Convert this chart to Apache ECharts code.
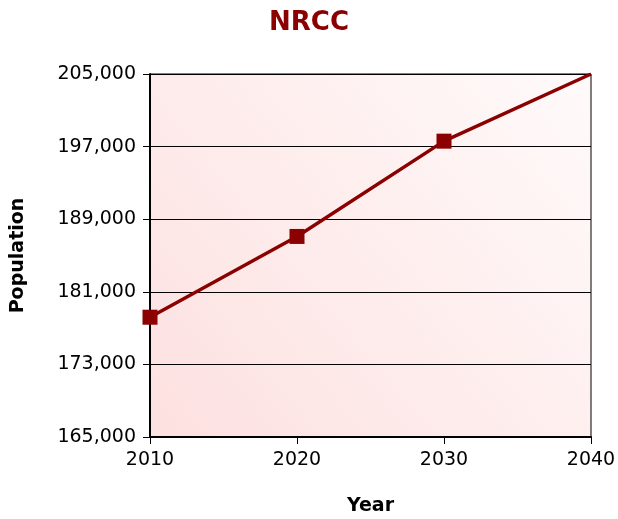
<!DOCTYPE html>
<html><head><meta charset="utf-8">
<script src="https://cdn.jsdelivr.net/npm/echarts@6/dist/echarts.min.js"></script>
<style>html,body{margin:0;padding:0;background:#fff}#c{width:618px;height:519px}</style>
</head><body><div id="c"></div>
<script>
const years = [2010, 2020, 2030, 2040];
const population = [178200, 187100, 197600, 205000];
const yTicks = [165000, 173000, 181000, 189000, 197000, 205000];
const xTicks = [2010, 2020, 2030, 2040];

const chart = echarts.init(document.getElementById('c'));
const fmt = v => v.toLocaleString('en-US');
const data = years.map((y, i) => {
  const d = { value: [y, population[i]] };
  if (i === years.length - 1) d.symbolSize = 0;
  return d;
});
chart.setOption({
  animation: false,
  title: {
    text: 'NRCC', left: 'center', top: 5,
    textStyle: { fontFamily: 'DejaVu Sans', fontWeight: 'bold', fontSize: 26, color: '#8B0000' }
  },
  grid: {
    left: 150, right: 27, top: 74, bottom: 82, show: true, borderColor: '#000', borderWidth: 1,
    outerBoundsMode: 'none', containLabel: false,
    backgroundColor: new echarts.graphic.LinearGradient(0, 1, 1, 0, [
      { offset: 0, color: '#fde0e0' }, { offset: 1, color: '#fffafa' }
    ])
  },
  xAxis: {
    type: 'value', min: xTicks[0], max: xTicks[xTicks.length - 1], interval: 10,
    name: 'Year', nameLocation: 'middle', nameGap: 60,
    nameTextStyle: { fontFamily: 'DejaVu Sans', fontWeight: 'bold', fontSize: 19, color: '#000' },
    axisLine: { lineStyle: { color: '#000', width: 2 } },
    axisTick: { show: true, length: 7, lineStyle: { color: '#000' } },
    axisLabel: { fontFamily: 'DejaVu Sans', fontSize: 19, color: '#000', margin: 14, formatter: v => String(v) },
    splitLine: { show: false }
  },
  yAxis: {
    type: 'value', min: yTicks[0], max: yTicks[yTicks.length - 1], interval: 8000,
    name: 'Population', nameLocation: 'middle', nameGap: 122, nameRotate: 90,
    nameTextStyle: { fontFamily: 'DejaVu Sans', fontWeight: 'bold', fontSize: 19, color: '#000' },
    axisLine: { show: true, lineStyle: { color: '#000', width: 2 } },
    axisTick: { show: true, length: 7, lineStyle: { color: '#000' } },
    axisLabel: { fontFamily: 'DejaVu Sans', fontSize: 19, color: '#000', margin: 14, formatter: fmt },
    splitLine: { show: true, lineStyle: { color: '#000', width: 1 } }
  },
  series: [{
    type: 'line', data: data, symbol: 'rect', symbolSize: 15,
    lineStyle: { color: '#8B0000', width: 3.5 },
    itemStyle: { color: '#8B0000' }
  }]
});
</script></body></html>
